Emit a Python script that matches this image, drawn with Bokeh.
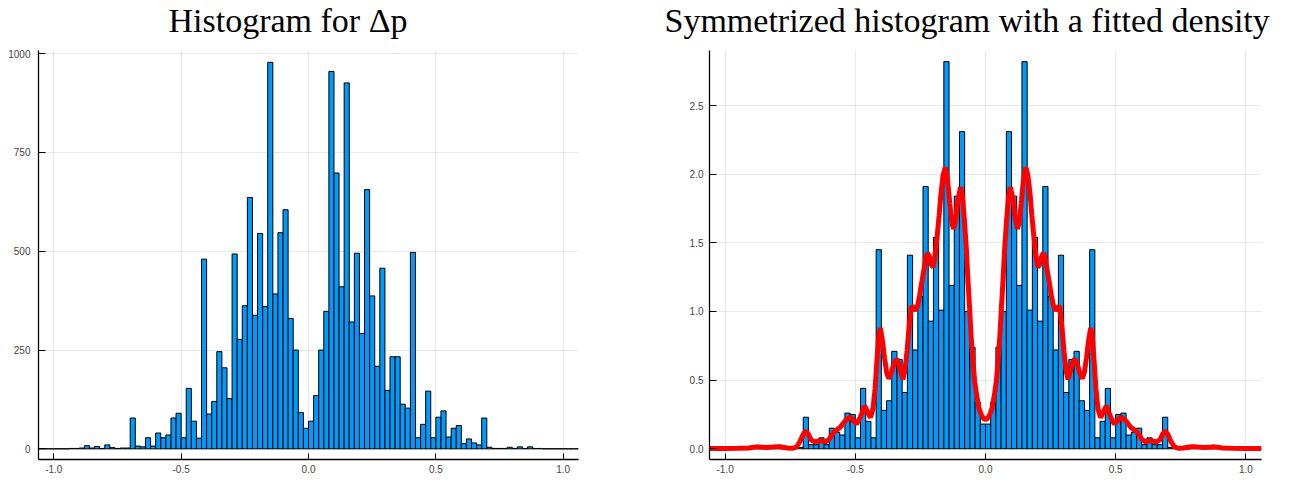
from bokeh.plotting import figure
from bokeh.layouts import row
from bokeh.models import Range1d, FixedTicker
from bokeh.embed import file_html
from bokeh.resources import INLINE

# ---------------- data ----------------
# left bin edges, bin width 0.02 from -1.06 to 1.06
bin_left = [round(-1.06 + 0.02 * i, 2) for i in range(106)]
bin_right = [round(b + 0.02, 2) for b in bin_left]

counts = [0, 0, 0, 0, 0, 0, 1, 1, 2, 8, 2, 6, 1, 10, 3, 1, 2, 2,
          78, 7, 5, 28, 7, 40, 28, 35, 78, 90, 28, 153, 70, 27, 480, 88, 120,
          246, 205, 127, 493, 277, 362, 636, 338, 545, 360, 978, 392, 547, 605,
          330, 250, 92, 52,
          70, 135, 250, 348, 955, 698, 410, 926, 321, 495, 292, 656, 387, 209,
          457, 148, 233, 233, 113, 103, 497, 28, 62, 146, 28, 80, 96, 30, 52, 59,
          13, 25, 15, 10, 78,
          4, 1, 1, 1, 4, 1, 5, 1, 5, 1, 1, 0, 0, 0, 0, 0, 0, 0]

sym_density = [0, 0, 0, 0, 0, 0, 0, 0.002, 0.003, 0.01, 0.003, 0.009, 0.003,
               0.008, 0.003, 0.004, 0.004, 0.01,
               0.23, 0.03, 0.03, 0.08, 0.03, 0.15, 0.12, 0.10, 0.26, 0.25, 0.08,
               0.44, 0.20, 0.08, 1.45, 0.28, 0.35, 0.71, 0.65, 0.41, 1.41, 0.72,
               1.11, 1.91, 0.93, 1.54, 1.01, 2.82, 1.19, 1.84, 2.31, 1.00, 0.74,
               0.34, 0.18,
               0.18, 0.34, 0.74, 1.00, 2.31, 1.84, 1.19, 2.82, 1.01, 1.54, 0.93,
               1.91, 1.11, 0.72, 1.41, 0.41, 0.65, 0.71, 0.35, 0.28, 1.45, 0.08,
               0.20, 0.44, 0.08, 0.25, 0.26, 0.10, 0.12, 0.15, 0.03, 0.08, 0.03,
               0.03, 0.23,
               0.01, 0.004, 0.004, 0.003, 0.008, 0.003, 0.009, 0.003, 0.01, 0.003,
               0.002, 0, 0, 0, 0, 0, 0, 0]

kde_x = [-1.06, -1.00, -0.95, -0.91, -0.88, -0.86, -0.84, -0.81, -0.79, -0.76,
         -0.74, -0.725, -0.712, -0.700, -0.690, -0.680, -0.670, -0.655, -0.635,
         -0.615, -0.600, -0.583, -0.558, -0.538, -0.520, -0.505, -0.495, -0.481,
         -0.464, -0.452, -0.442, -0.432, -0.424, -0.417, -0.410, -0.404, -0.396,
         -0.388, -0.380, -0.372, -0.363, -0.355, -0.342, -0.333, -0.325, -0.317,
         -0.309, -0.301, -0.293, -0.285, -0.277, -0.269, -0.261, -0.253, -0.245,
         -0.237, -0.229, -0.222, -0.215, -0.208, -0.201, -0.194, -0.186, -0.178,
         -0.171, -0.163, -0.155, -0.146, -0.137, -0.129, -0.122, -0.114, -0.106,
         -0.096, -0.088, -0.081, -0.074, -0.068, -0.061, -0.055, -0.048, -0.042,
         -0.034, -0.026, -0.016, -0.006, 0.0,
         0.006, 0.016, 0.026, 0.034, 0.042, 0.048, 0.055, 0.061, 0.068, 0.074,
         0.081, 0.088, 0.096, 0.106, 0.114, 0.122, 0.129, 0.137, 0.146, 0.155,
         0.163, 0.171, 0.178, 0.186, 0.194, 0.201, 0.208, 0.215, 0.222, 0.229,
         0.237, 0.245, 0.253, 0.261, 0.269, 0.277, 0.285, 0.293, 0.301, 0.309,
         0.317, 0.325, 0.333, 0.342, 0.355, 0.363, 0.372, 0.380, 0.388, 0.396,
         0.404, 0.410, 0.417, 0.424, 0.432, 0.442, 0.452, 0.464, 0.481, 0.495,
         0.505, 0.520, 0.538, 0.558, 0.583, 0.600, 0.615, 0.635, 0.655, 0.670,
         0.680, 0.690, 0.700, 0.712, 0.725, 0.74, 0.76, 0.79, 0.81, 0.84, 0.86,
         0.88, 0.91, 0.95, 1.00, 1.06]

kde_y = [0.003, 0.003, 0.004, 0.006, 0.014, 0.012, 0.010, 0.014, 0.015, 0.006,
         0.004, 0.015, 0.055, 0.105, 0.130, 0.105, 0.065, 0.050, 0.060,
         0.050, 0.070, 0.120, 0.157, 0.206, 0.232, 0.200, 0.180, 0.228,
         0.312, 0.265, 0.228, 0.290, 0.440, 0.643, 0.820, 0.880, 0.790,
         0.665, 0.560, 0.512, 0.545, 0.600, 0.655, 0.620, 0.560, 0.505,
         0.580, 0.716, 0.900, 1.030, 1.035, 1.005, 1.040, 1.117, 1.210,
         1.300, 1.390, 1.425, 1.400, 1.340, 1.323, 1.400, 1.541, 1.700,
         1.857, 1.990, 2.050, 1.960, 1.784, 1.640, 1.602, 1.680, 1.808,
         1.905, 1.830, 1.663, 1.470, 1.250, 1.020, 0.813, 0.640, 0.497,
         0.390, 0.303, 0.245, 0.218, 0.215,
         0.218, 0.245, 0.303, 0.390, 0.497, 0.640, 0.813, 1.020, 1.250, 1.470,
         1.663, 1.830, 1.905, 1.808, 1.680, 1.602, 1.640, 1.784, 1.960, 2.050,
         1.990, 1.857, 1.700, 1.541, 1.400, 1.323, 1.340, 1.400, 1.425, 1.390,
         1.300, 1.210, 1.117, 1.040, 1.005, 1.035, 1.030, 0.900, 0.716, 0.580,
         0.505, 0.560, 0.620, 0.655, 0.600, 0.545, 0.512, 0.560, 0.665, 0.790,
         0.880, 0.820, 0.643, 0.440, 0.290, 0.228, 0.265, 0.312, 0.228, 0.180,
         0.200, 0.232, 0.206, 0.157, 0.120, 0.070, 0.050, 0.060, 0.050, 0.065,
         0.105, 0.130, 0.105, 0.055, 0.015, 0.004, 0.006, 0.015, 0.014, 0.010, 0.012,
         0.014, 0.006, 0.004, 0.003, 0.003]

x_ticks = [-1.0, -0.5, 0.0, 0.5, 1.0]
x_tick_labels = ["-1.0", "-0.5", "0.0", "0.5", "1.0"]
y1_ticks = [0, 250, 500, 750, 1000]
y1_tick_labels = ["0", "250", "500", "750", "1000"]
y2_ticks = [0.0, 0.5, 1.0, 1.5, 2.0, 2.5]
y2_tick_labels = ["0.0", "0.5", "1.0", "1.5", "2.0", "2.5"]

title1 = "Histogram for Δp"
title2 = "Symmetrized histogram with a fitted density"

BAR = "#009AFA"
TICK_FONT = "Liberation Sans"
TITLE_FONT = "Liberation Serif"
SHIFT = 14  # figure pulled up so the title can sit higher above the frame


def style(p, yt, ylab, ystand, title_offset):
    p.outline_line_color = None
    p.background_fill_color = "white"
    p.border_fill_color = "white"
    for ax in (p.xaxis[0], p.yaxis[0]):
        ax.axis_line_color = "black"
        ax.axis_line_width = 1.3
        ax.major_tick_line_color = "black"
        ax.major_tick_out = 0
        ax.minor_tick_line_color = None
        ax.major_label_text_font = TICK_FONT
        ax.major_label_text_font_size = "10px"
        ax.major_label_text_color = "#444444"
    p.xaxis[0].ticker = FixedTicker(ticks=x_ticks)
    p.xaxis[0].major_label_overrides = {t: l for t, l in zip(x_ticks, x_tick_labels)}
    p.xaxis[0].major_tick_in = 6
    p.xaxis[0].major_label_standoff = 5
    p.yaxis[0].ticker = FixedTicker(ticks=yt)
    p.yaxis[0].major_label_overrides = {t: l for t, l in zip(yt, ylab)}
    p.yaxis[0].major_tick_in = 7
    p.yaxis[0].major_label_standoff = ystand
    p.xgrid[0].ticker = FixedTicker(ticks=x_ticks)
    p.ygrid[0].ticker = FixedTicker(ticks=yt)
    for g in (p.xgrid[0], p.ygrid[0]):
        g.grid_line_color = "black"
        g.grid_line_alpha = 0.09
        g.grid_line_width = 1
    t = p.title
    t.align = "left"
    t.offset = title_offset
    t.text_font = TITLE_FONT
    t.text_font_size = "34px"
    t.text_font_style = "normal"
    t.text_color = "black"
    t.vertical_align = "bottom"
    t.standoff = 24
    p.margin = (-SHIFT, 0, 0, 0)


H = 481 + SHIFT
p1 = figure(width=648, height=H, title=title1, x_range=Range1d(-1.06, 1.06),
            y_range=Range1d(-27, 1008), output_backend="svg",
            toolbar_location=None, min_border_left=38, min_border_right=70,
            min_border_top=50 + SHIFT, min_border_bottom=22)
p1.quad(left=bin_left, right=bin_right, top=counts, bottom=0,
        fill_color=BAR, line_color="black", line_width=1)
style(p1, y1_ticks, y1_tick_labels, 8, 130)

p2 = figure(width=639, height=H, title=title2, x_range=Range1d(-1.06, 1.06),
            y_range=Range1d(-0.078, 2.901), output_backend="svg",
            toolbar_location=None, min_border_left=61, min_border_right=26,
            min_border_top=50 + SHIFT, min_border_bottom=22)
p2.quad(left=bin_left, right=bin_right, top=sym_density, bottom=0,
        fill_color=BAR, line_color="black", line_width=1)
p2.line(kde_x, kde_y, line_color="red", line_width=5)
style(p2, y2_ticks, y2_tick_labels, 6, -45)

layout = row(p1, p2)
open("out.html", "w").write(file_html(layout, INLINE))
